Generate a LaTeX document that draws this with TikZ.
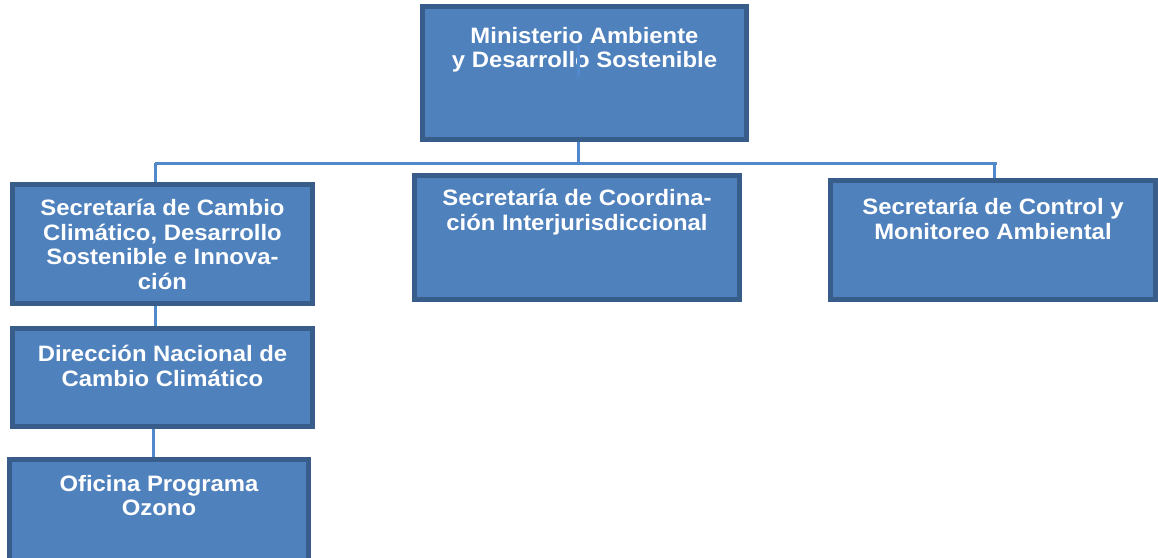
\documentclass[tikz,border=0pt]{standalone}
\usepackage{fontspec}
\setmainfont{Liberation Sans}
\newfontfamily\cajafont[FakeStretch=1.07]{Liberation Sans}
\usetikzlibrary{positioning}
\definecolor{relleno}{HTML}{4F81BD}
\definecolor{borde}{HTML}{385D8A}
\definecolor{linea}{HTML}{5289CC}
\tikzstyle{caja}=[rectangle,draw=borde,fill=relleno,line width=5pt,inner sep=0pt]
\tikzstyle{texto}=[inner sep=0pt,align=center,text=white,font=\cajafont\bfseries\fontsize{22.3}{24.5}\selectfont]
\tikzstyle{enlace}=[draw=linea,line width=3pt]

\begin{document}
\begin{tikzpicture}[x=1pt,y=-1pt]
  \useasboundingbox (0,0) rectangle (1158,557);
  \clip (0,0) rectangle (1158,557);

  % boxes
  \node[caja,minimum width=324pt,minimum height=133pt] (min) at (584.5,73) {};
  \node[caja,minimum width=300pt,minimum height=119pt] (scc) at (162.5,244) {};
  \node[caja,minimum width=325pt,minimum height=124pt] (sci) at (577,237.5) {};
  \node[caja,minimum width=325pt,minimum height=119pt] (scm) at (993,240) {};
  \node[caja,minimum width=300pt,minimum height=98pt] (dncc) at (162.5,377.5) {};
  \node[caja,minimum width=299pt,minimum height=105pt] (opo) at (159,512) {};

  % labels
  \node[texto,below=22.7pt of min.north] (min-t) {Ministerio Ambiente\\y Desarrollo Sostenible};
  \node[texto,below=17pt of scc.north] (scc-t) {Secretaría de Cambio\\Climático, Desarrollo\\Sostenible e Innova-\\ción};
  \node[texto,below=16pt of sci.north] (sci-t) {Secretaría de Coordina-\\ción Interjurisdiccional};
  \node[texto,below=20pt of scm.north] (scm-t) {Secretaría de Control y\\Monitoreo Ambiental};
  \node[texto,below=19pt of dncc.north] (dncc-t) {Dirección Nacional de\\Cambio Climático};
  \node[texto,below=18pt of opo.north] (opo-t) {Oficina Programa\\Ozono};

  %connectors
  \coordinate (eje) at (578,163);
  \coordinate (bus-l) at (155,163);
  \coordinate (bus-m) at (994,163);
  \coordinate (bus-r) at (997,163);
  \coordinate (eje-d) at (153,429);
  \coordinate (corte) at (578,45);

  \draw[enlace] (min.south -| eje) -- (eje);
  \draw[enlace] (bus-l) -- (bus-r);
  \draw[enlace] (bus-l) -- (scc.north -| bus-l);
  \draw[enlace] (bus-m) -- (scm.north -| bus-m);
  \draw[enlace] (scc.south -| bus-l) -- (dncc.north -| bus-l);
  \draw[enlace] (dncc.south -| eje-d) -- (opo.north -| eje-d);
  \draw[enlace] (corte) -- ++(0,32);

\end{tikzpicture}
\end{document}
